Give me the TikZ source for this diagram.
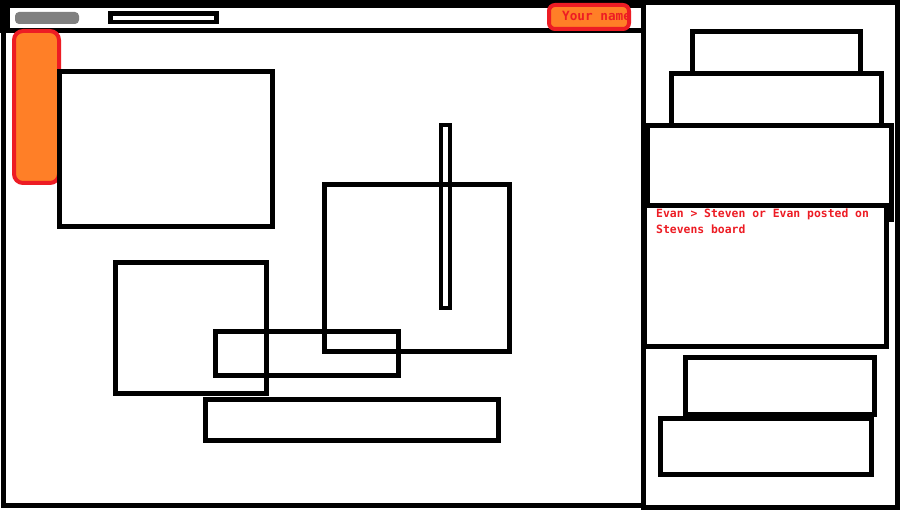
\documentclass[tikz,border=0pt]{standalone}
\usepackage{fontspec}
\newfontfamily\pixfont{DejaVu Sans Mono}
\definecolor{pred}{HTML}{ED1C24}
\definecolor{porange}{HTML}{FF7F27}
\definecolor{pgray}{HTML}{808080}
\begin{document}
\begin{tikzpicture}[x=1pt,y=-1pt,
  frame/.style={draw=black,line width=5pt},
  wbox/.style={draw=black,line width=5pt,fill=white},
  thinbox/.style={draw=black,line width=4pt},
  redtab/.style={draw=pred,line width=4pt,fill=porange},
  redtext/.style={text=pred,inner sep=0pt,font=\pixfont\bfseries}]
\useasboundingbox (0,0) rectangle (900,510);
\fill[white] (0,0) rectangle (900,510);
% main window frame
\fill[black] (0,0) rectangle (643,33);
\fill[white] (10,8) rectangle (641,28);
\draw[black,line width=5pt] (3.5,30) -- (3.5,505.5) -- (643.5,505.5);
% right panel
\draw[frame] (643.5,2.5) rectangle (897.5,507.5);
% top bar items
\fill[pgray,rounded corners=4pt] (15,12) rectangle (79,24);
\draw[thinbox,line width=4.7pt] (110.7,13.3) rectangle (216.6,22);
\draw[redtab,rounded corners=6pt] (549,5) rectangle (629,29);
\begin{scope}
\clip (549,5) rectangle (629,29);
\node[redtext,font=\pixfont\bfseries\fontsize{12.7}{14}\selectfont,anchor=base west] (yourname) at (562,20.7) {Your name};
\end{scope}
\draw[redtab,rounded corners=9pt] (14,31) rectangle (59,183);
% canvas boxes
\draw[frame] (59.5,71.5) rectangle (272.5,226.5);
\draw[frame] (115.5,262.5) rectangle (266.5,393.5);
\draw[frame] (215.5,331.5) rectangle (398.5,375.5);
\draw[frame] (324.5,184.5) rectangle (509.5,351.5);
\draw[thinbox] (441,125) rectangle (450,308);
\draw[frame] (205.5,399.5) rectangle (498.5,440.5);
% right panel boxes
\draw[wbox] (692.5,31.5) rectangle (860.5,80);
\draw[wbox] (671.5,73.5) rectangle (881.5,130);
\draw[wbox] (647.5,125.5) rectangle (891.5,219.5);
\draw[wbox] (644.5,205.5) rectangle (886.5,346.5);
\node[redtext,font=\pixfont\bfseries\fontsize{11.4}{16}\selectfont,anchor=base west] (post1) at (656,218) {Evan > Steven or Evan posted on};
\node[redtext,font=\pixfont\bfseries\fontsize{11.4}{16}\selectfont,anchor=base west] (post2) at (656,234) {Stevens board};
\draw[wbox] (685.5,357.5) rectangle (874.5,414.5);
\draw[wbox] (660.5,418.5) rectangle (871.5,474.5);
\end{tikzpicture}
\end{document}
